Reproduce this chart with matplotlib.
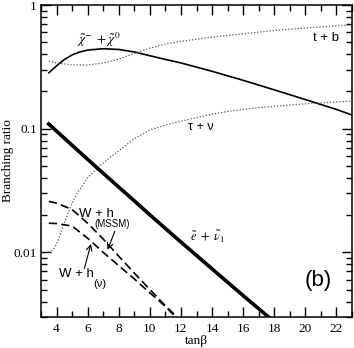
import numpy as np
import matplotlib
matplotlib.use("Agg")
import matplotlib.pyplot as plt
from matplotlib.ticker import LogLocator, NullFormatter, FixedLocator, FixedFormatter, MultipleLocator

plt.rcParams['mathtext.fontset'] = 'stix'

# --- data ---
x_chi = [3.5, 4, 4.5, 5, 5.5, 6, 7, 8, 9, 10, 11, 12, 14, 16, 18, 20, 22, 23]
br_chi = [0.283, 0.322, 0.362, 0.395, 0.417, 0.432, 0.443, 0.437, 0.417, 0.389, 0.363, 0.340, 0.291, 0.246, 0.206, 0.172, 0.143, 0.129]

x_tb = [3.5, 4, 5, 6, 7, 8, 9, 10, 11, 12, 14, 16, 18, 20, 22, 23]
br_tb = [0.352, 0.34, 0.328, 0.327, 0.34, 0.365, 0.405, 0.448, 0.483, 0.508, 0.55, 0.585, 0.622, 0.652, 0.678, 0.69]

x_tau = [3.5, 3.8, 4.1, 4.4, 4.66, 5.0, 5.4, 6.0, 6.7, 7.4, 8, 9, 10, 11, 12, 14, 15.2, 17, 20, 23]
br_tau = [0.0100, 0.0105, 0.0125, 0.016, 0.0195, 0.025, 0.031, 0.040, 0.049, 0.058, 0.066, 0.083, 0.0975, 0.107, 0.115, 0.131, 0.139, 0.148, 0.159, 0.167]

x_sel = [3.5, 4, 5, 6, 7, 8, 9, 10, 11, 12, 13, 14, 15, 16, 17, 17.63]
br_sel = [0.109, 0.0955, 0.0734, 0.0565, 0.0436, 0.0337, 0.0261, 0.0201, 0.0156, 0.0121, 0.00944, 0.00735, 0.00573, 0.00447, 0.0035, 0.0030]

x_whm = [3.5, 4, 5, 6, 7, 8, 9, 10, 11, 11.75]
br_whm = [0.0258, 0.0250, 0.0222, 0.0172, 0.0128, 0.0093, 0.0068, 0.0050, 0.0037, 0.0030]

x_whn = [3.5, 4, 5, 6, 7, 8, 9, 10, 11, 11.65]
br_whn = [0.0172, 0.0171, 0.0163, 0.0130, 0.0100, 0.0078, 0.0061, 0.0047, 0.00365, 0.0030]

xticks = [4, 6, 8, 10, 12, 14, 16, 18, 20, 22]
yticks = [0.01, 0.1, 1]
ytick_labels = ["0.01", "0.1", "1"]

fig = plt.figure(figsize=(3.54, 3.48), dpi=100)
ax = fig.add_axes([41/354, 1-317/348, (352-41)/354, (317-5)/348])

ax.plot(x_chi, br_chi, color='black', lw=1.2)
ax.plot(x_tb, br_tb, color='#555555', lw=0.9, ls=(0, (1, 1.5)))
ax.plot(x_tau, br_tau, color='#555555', lw=0.9, ls=(0, (1, 1.5)))
ax.plot(x_sel, br_sel, color='black', lw=2.6)
ax.plot(x_whm, br_whm, color='black', lw=1.2, ls=(0, (5, 2.5)))
ax.plot(x_whn, br_whn, color='black', lw=1.2, ls=(0, (5, 2.5)))

ax.set_yscale('log')
ax.set_xlim(3, 23)
ax.set_ylim(0.003, 1)

serif = 'Liberation Serif'
sans = 'Liberation Sans'

ax.xaxis.set_major_locator(FixedLocator(xticks))
ax.xaxis.set_minor_locator(MultipleLocator(1))
ax.yaxis.set_major_locator(FixedLocator(yticks))
ax.yaxis.set_major_formatter(FixedFormatter(ytick_labels))
ax.yaxis.set_minor_locator(LogLocator(base=10, subs=np.arange(2, 10)))
ax.yaxis.set_minor_formatter(NullFormatter())
ax.tick_params(which='both', direction='in', top=True, right=True, width=1.0)
ax.tick_params(which='major', length=7, labelsize=9.5)
ax.tick_params(axis='x', which='major', pad=4)
ax.tick_params(axis='y', which='major', pad=3)
ax.tick_params(which='minor', length=4)
for lab in ax.get_xticklabels() + ax.get_yticklabels():
    lab.set_family(serif)
for s in ax.spines.values():
    s.set_linewidth(1.1)

ax.set_xlabel('tanβ', family=serif, fontsize=9.5, labelpad=0)
ax.yaxis.set_label_coords(-0.088, 0.5)
ax.set_ylabel('Branching ratio', family=serif, fontsize=9.5)

ax.text(6.7, 0.52, r'$\tilde{\chi}^{-}\ +\tilde{\chi}^{0}$', fontsize=9.5, ha='center', va='center')
ax.text(21.3, 0.54, 't + b', family=sans, fontsize=9.5, ha='center', va='center')
ax.text(13.3, 0.103, 'τ + ν', family=sans, fontsize=9, ha='center', va='center')
ax.text(13.7, 0.0134, r'$\tilde{e}\ +\ \tilde{\nu}_1$', fontsize=9, ha='center', va='center')
ax.text(20.8, 0.0059, '(b)', family=sans, fontsize=16, ha='center', va='center')
ax.text(6.57, 0.0206, 'W + h', family=sans, fontsize=9.5, ha='center', va='center')
ax.text(7.55, 0.0168, '(MSSM)', family=sans, fontsize=7, ha='center', va='center')
ax.text(5.3, 0.00673, 'W + h', family=sans, fontsize=9.5, ha='center', va='center')
ax.text(6.75, 0.0055, '(ν)', family=sans, fontsize=8, ha='center', va='center')

ax.annotate('', xy=(7.28, 0.0105), xytext=(7.75, 0.0148),
            arrowprops=dict(arrowstyle='->', lw=0.8, color='black', shrinkA=0, shrinkB=0))
ax.annotate('', xy=(6.21, 0.0117), xytext=(5.79, 0.0074),
            arrowprops=dict(arrowstyle='->', lw=0.8, color='black', shrinkA=0, shrinkB=0))

fig.savefig('out.png', dpi=100)
